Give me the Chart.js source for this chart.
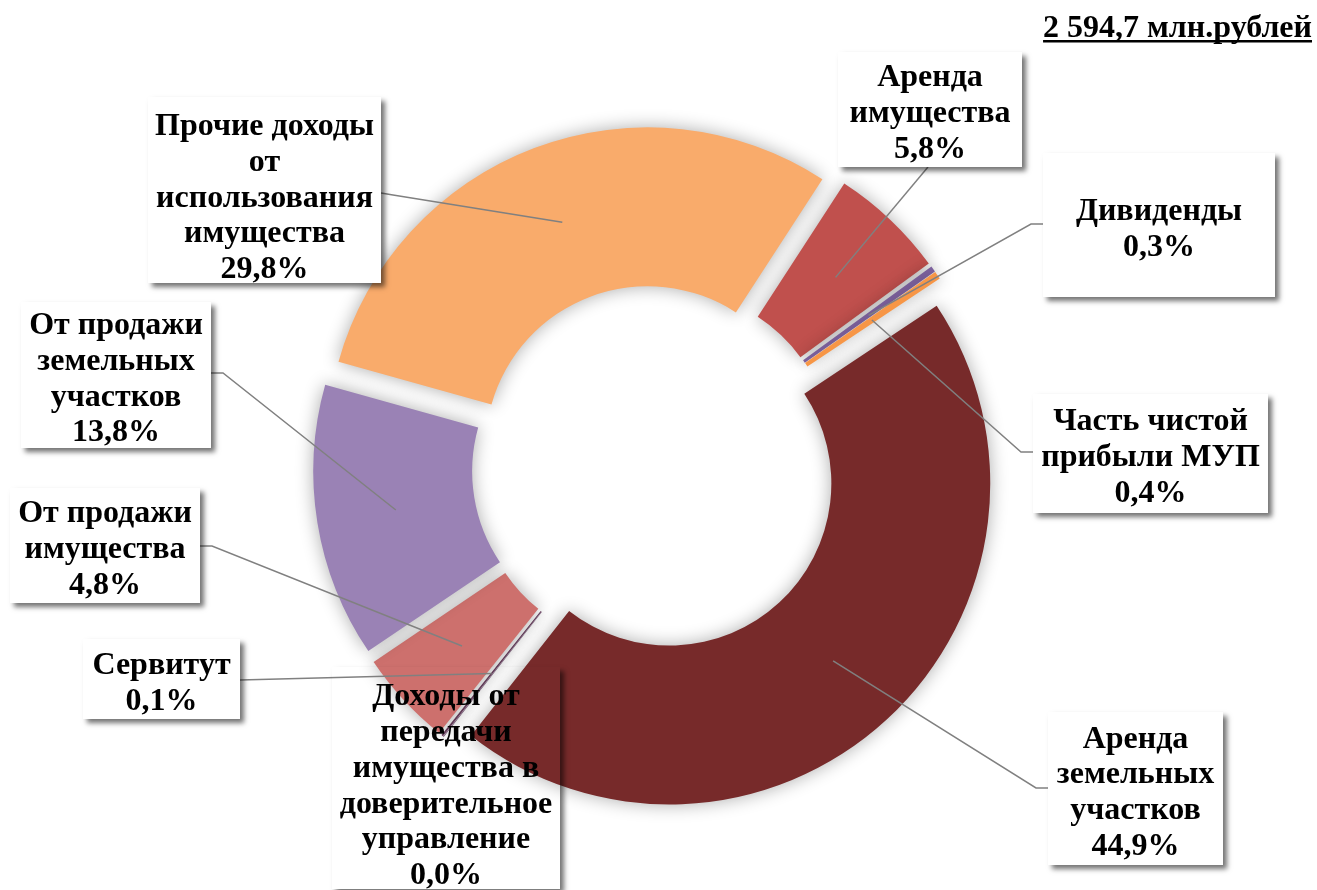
<!DOCTYPE html>
<html><head><meta charset="utf-8">
<script src="https://cdn.jsdelivr.net/npm/chart.js@4/dist/chart.umd.min.js"></script>
<style>html,body{margin:0;padding:0;background:#fff;overflow:hidden}canvas{display:block}</style>
</head><body>
<canvas id="c" width="1317" height="890"></canvas>
<script>
// ---- data ----
const totalLabel = '2 594,7 млн.рублей';
const categories = [
  ['Аренда', 'имущества'],
  ['Дивиденды'],
  ['Часть чистой', 'прибыли МУП'],
  ['Аренда', 'земельных', 'участков'],
  ['Доходы от', 'передачи', 'имущества в', 'доверительное', 'управление'],
  ['Сервитут'],
  ['От продажи', 'имущества'],
  ['От продажи', 'земельных', 'участков'],
  ['Прочие доходы', 'от', 'использования', 'имущества']
];
const shares = [5.8, 0.3, 0.4, 44.9, 0.04, 0.1, 4.8, 13.8, 29.8];

// ---- styles / layout ----
const palette = ['#C0504D', '#8064A2', '#F79646', '#772A2A', '#7A5A7A', '#6B4060', '#CD706D', '#9A82B5', '#F9AB6B'];
const LAYOUT = {
  radius: 321, cutout: '50.5%', rotation: 33, explode: 21,
  font: 'bold 32px "Liberation Serif", "Times New Roman", serif', lineH: 35.7, baseOff: 30.5,
  boxes: [
    {x: 838, y: 52, w: 184, h: 115, from: [928, 167]},
    {x: 1043, y: 153, w: 232, h: 144, from: [1043, 224], elbow: [1031, 224]},
    {x: 1033, y: 394, w: 235, h: 119, from: [1033, 452], elbow: [1021, 452]},
    {x: 1048, y: 712, w: 175, h: 153, from: [1048, 788], elbow: [1036, 788]},
    {x: 332, y: 667, w: 228, h: 222, transparent: true, dy: 4},
    {x: 83, y: 639, w: 157, h: 80, from: [240, 680]},
    {x: 10, y: 488, w: 190, h: 115, from: [200, 546], elbow: [212, 546]},
    {x: 21, y: 302, w: 190, h: 146, from: [211, 373], elbow: [223, 373]},
    {x: 148, y: 97, w: 233, h: 186, from: [381, 193], elbow: [393, 195], dy: 4}
  ]
};

// exploded slices: translate each arc outward along its mid angle
const baseArcDraw = Chart.ArcElement.prototype.draw;
Chart.ArcElement.prototype.draw = function (ctx) {
  const h = (this.startAngle + this.endAngle) / 2;
  ctx.save();
  ctx.translate(Math.cos(h) * LAYOUT.explode, Math.sin(h) * LAYOUT.explode);
  baseArcDraw.call(this, ctx);
  ctx.restore();
};

const pct = v => v.toFixed(1).replace('.', ',') + '%';

const shadowPlugin = {
  id: 'sliceShadow',
  beforeDatasetsDraw(chart) {
    const c = chart.ctx;
    c.save();
    c.shadowColor = 'rgba(0,0,0,0.33)';
    c.shadowBlur = 18;
  },
  afterDatasetsDraw(chart) { chart.ctx.restore(); }
};

const labelPlugin = {
  id: 'calloutLabels',
  afterDraw(chart) {
    const ctx = chart.ctx;
    const meta = chart.getDatasetMeta(0);
    const W = chart.width, H = chart.height;
    // leader lines
    ctx.save();
    ctx.strokeStyle = '#808080';
    ctx.lineWidth = 1.5;
    meta.data.forEach((arc, i) => {
      const b = LAYOUT.boxes[i];
      if (!b.from) return;
      const p = arc.getProps(['x', 'y', 'startAngle', 'endAngle', 'innerRadius', 'outerRadius'], true);
      const h = (p.startAngle + p.endAngle) / 2;
      const r = (p.innerRadius + p.outerRadius) / 2 + LAYOUT.explode;
      ctx.beginPath();
      ctx.moveTo(b.from[0], b.from[1]);
      if (b.elbow) ctx.lineTo(b.elbow[0], b.elbow[1]);
      ctx.lineTo(p.x + Math.cos(h) * r, p.y + Math.sin(h) * r);
      ctx.stroke();
    });
    ctx.restore();
    // boxes + text
    meta.data.forEach((arc, i) => {
      const b = LAYOUT.boxes[i];
      ctx.save();
      if (b.transparent) {
        ctx.beginPath();
        ctx.rect(0, 0, W, H);
        ctx.rect(b.x, b.y, b.w, b.h);
        ctx.clip('evenodd');
      }
      ctx.shadowColor = 'rgba(0,0,0,0.55)';
      ctx.shadowBlur = 5;
      ctx.shadowOffsetX = 4;
      ctx.shadowOffsetY = 4;
      ctx.fillStyle = '#fff';
      ctx.fillRect(b.x, b.y, b.w, b.h);
      ctx.restore();

      const lines = categories[i].concat([pct(shares[i])]);
      const n = lines.length;
      const top = b.y + (b.h - n * LAYOUT.lineH) / 2 + (b.dy || 0);
      ctx.save();
      ctx.font = LAYOUT.font;
      ctx.fillStyle = '#000';
      ctx.textAlign = 'center';
      ctx.textBaseline = 'alphabetic';
      lines.forEach((t, k) => ctx.fillText(t, b.x + b.w / 2, top + k * LAYOUT.lineH + LAYOUT.baseOff));
      ctx.restore();
    });
    // total
    ctx.save();
    ctx.font = 'bold 32px "Liberation Serif", "Times New Roman", serif';
    ctx.fillStyle = '#000';
    ctx.textAlign = 'right';
    ctx.fillText(totalLabel, 1312, 37);
    const tw = ctx.measureText(totalLabel).width;
    ctx.fillRect(1312 - tw, 40, tw, 2.5);
    ctx.restore();
  }
};

new Chart(document.getElementById('c'), {
  type: 'doughnut',
  data: {
    labels: categories,
    datasets: [{data: shares, backgroundColor: palette, borderWidth: 0, hoverOffset: 0}]
  },
  options: {
    responsive: false,
    animation: false,
    devicePixelRatio: 1,
    rotation: LAYOUT.rotation,
    cutout: LAYOUT.cutout,
    radius: LAYOUT.radius,
    layout: {padding: {left: 0, right: 7, top: 46, bottom: 0}},
    events: [],
    plugins: {legend: {display: false}, tooltip: {enabled: false}, title: {display: false}}
  },
  plugins: [shadowPlugin, labelPlugin]
});
</script>
</body></html>
